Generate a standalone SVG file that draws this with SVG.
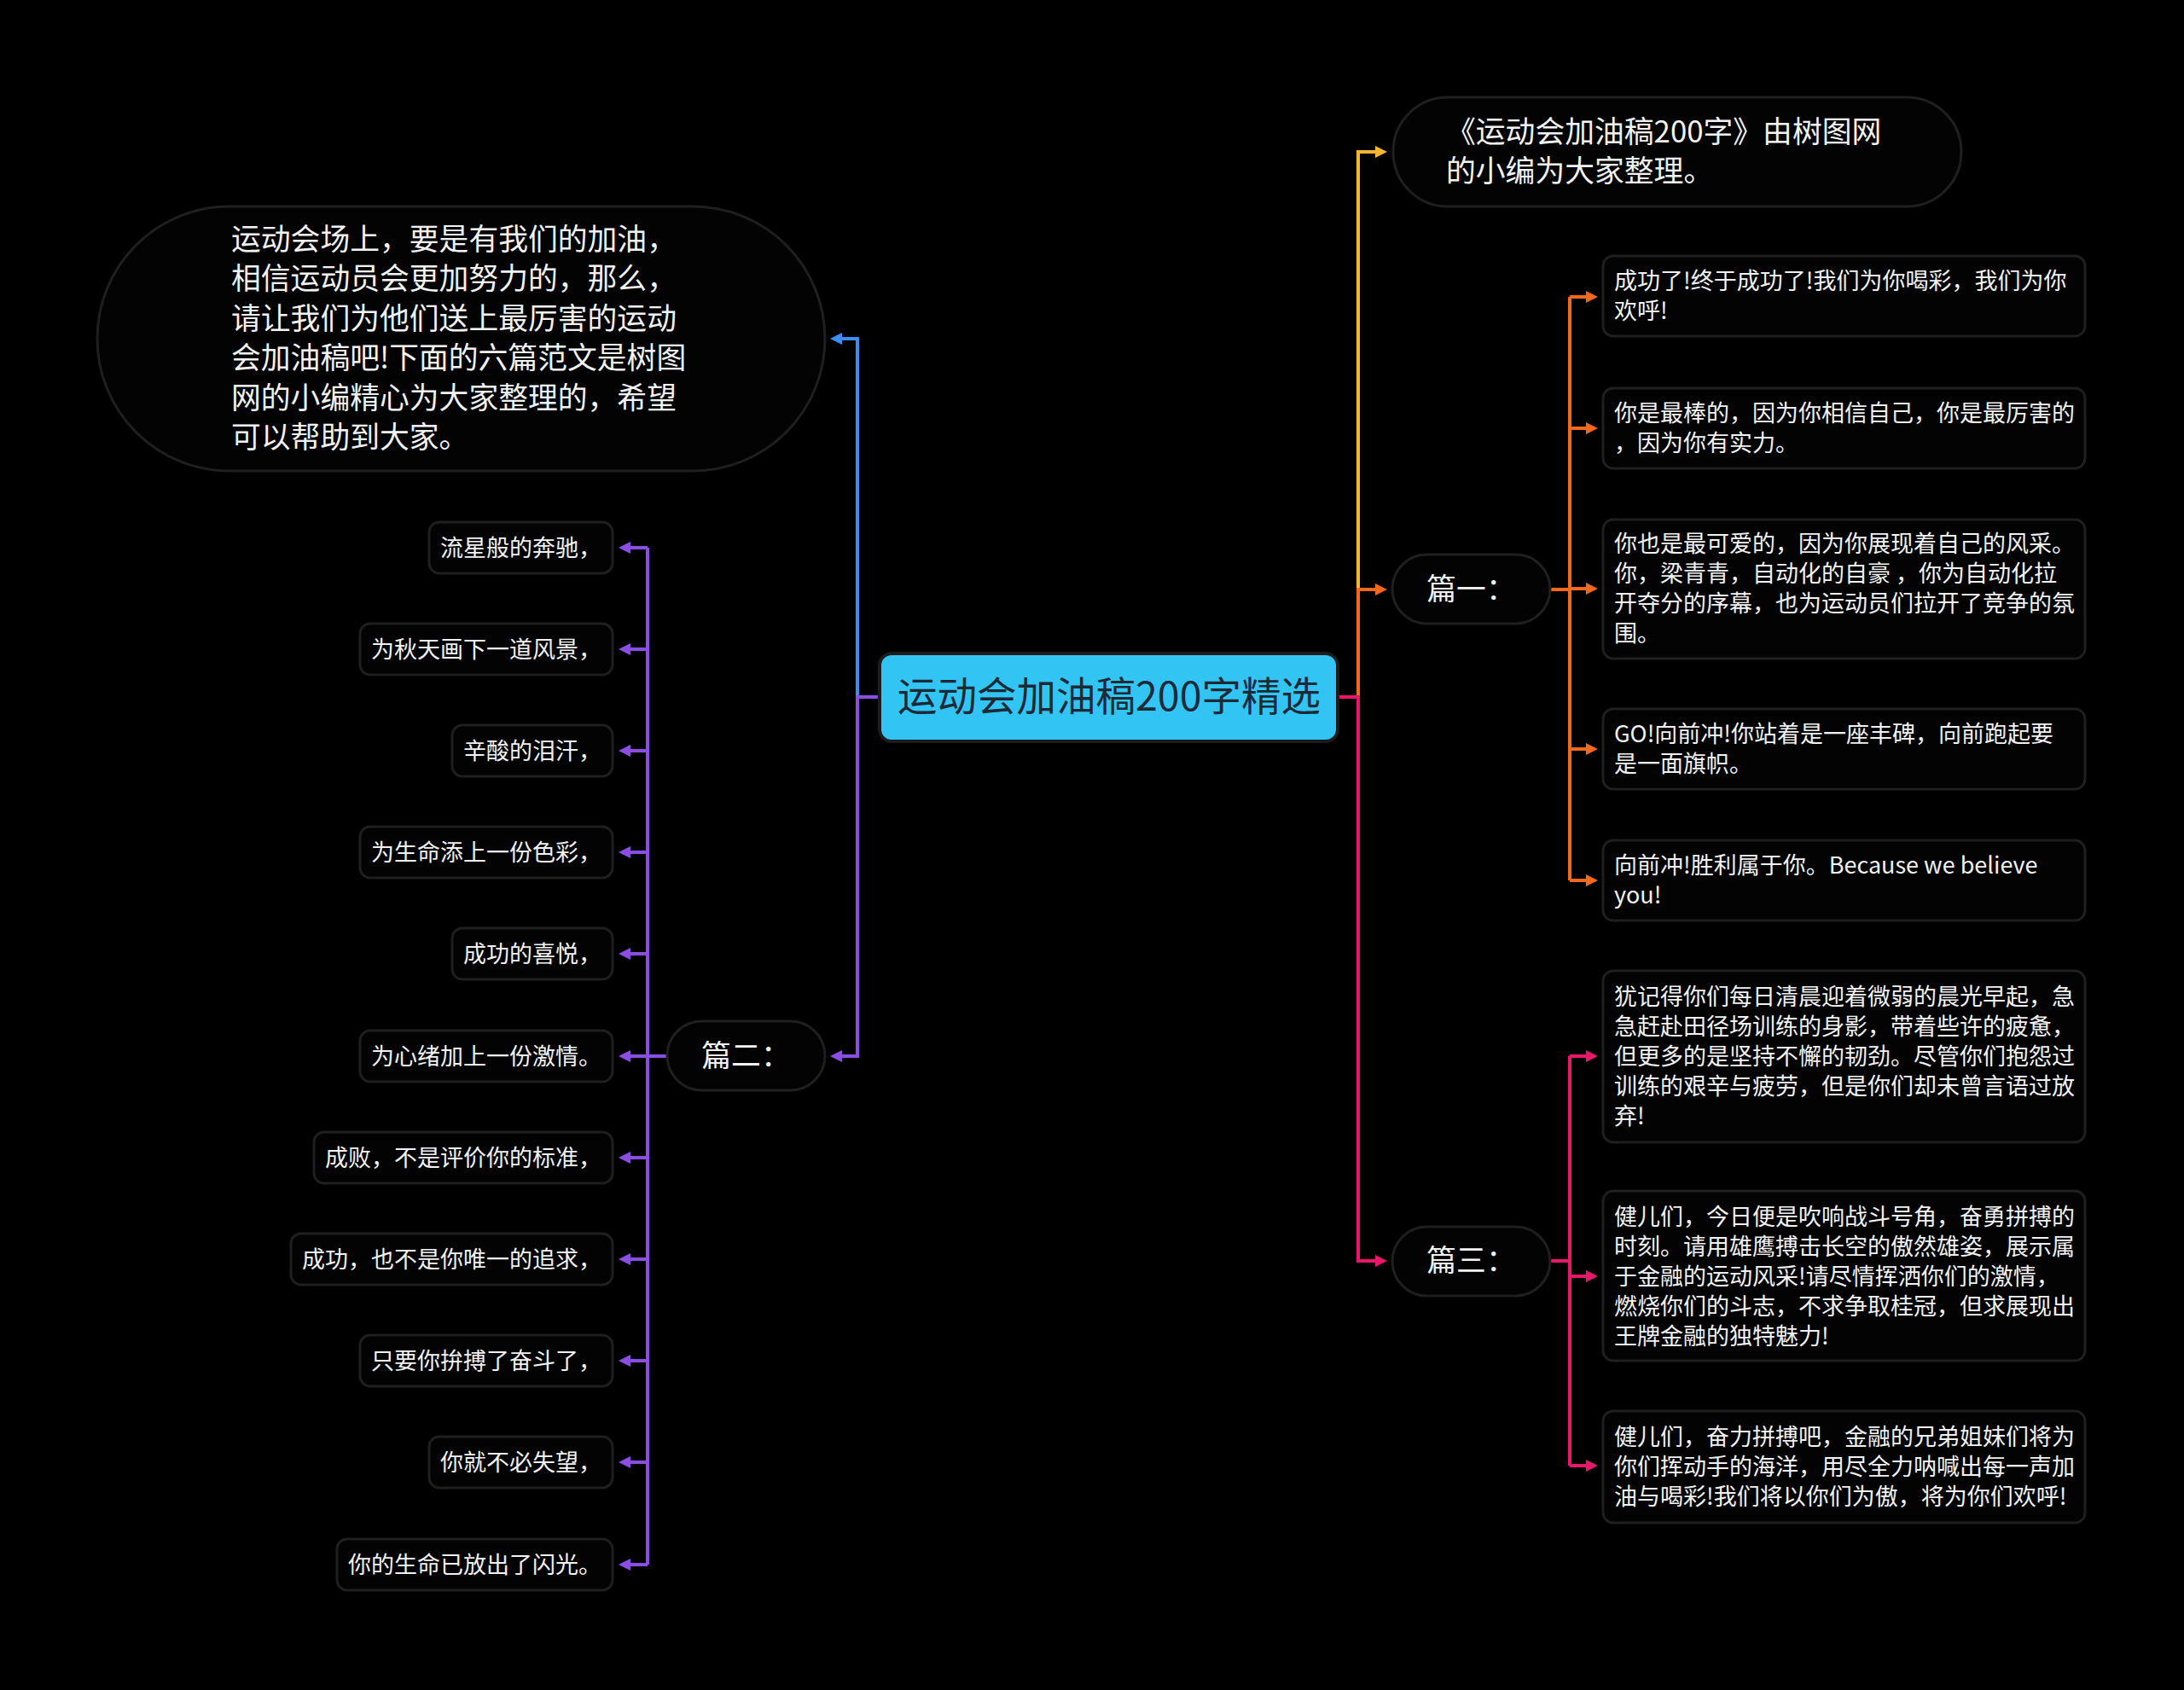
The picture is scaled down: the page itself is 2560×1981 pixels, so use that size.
<svg xmlns="http://www.w3.org/2000/svg" width="2560" height="1981" viewBox="0 0 2560 1981">
<style>
text{font-family:"Noto Sans CJK SC","Noto Sans",sans-serif;fill:#f2f2f2}
.box{fill:#030303;stroke:#1f1f1f;stroke-width:3}
.t35{font-size:34.8px}
.t27{font-size:27px}
.c{fill:none;stroke-width:4}
.mid{text-anchor:middle}
</style>
<defs>
<marker id="aB" markerUnits="userSpaceOnUse" markerWidth="14" markerHeight="14" viewBox="0 0 14 14" refX="6" refY="7" orient="auto"><path d="M0,0L14,7L0,14z" fill="#3f8cf0"/></marker>
<marker id="aP" markerUnits="userSpaceOnUse" markerWidth="14" markerHeight="14" viewBox="0 0 14 14" refX="6" refY="7" orient="auto"><path d="M0,0L14,7L0,14z" fill="#8a4ee2"/></marker>
<marker id="aY" markerUnits="userSpaceOnUse" markerWidth="14" markerHeight="14" viewBox="0 0 14 14" refX="6" refY="7" orient="auto"><path d="M0,0L14,7L0,14z" fill="#f5b531"/></marker>
<marker id="aO" markerUnits="userSpaceOnUse" markerWidth="14" markerHeight="14" viewBox="0 0 14 14" refX="6" refY="7" orient="auto"><path d="M0,0L14,7L0,14z" fill="#f2681c"/></marker>
<marker id="aR" markerUnits="userSpaceOnUse" markerWidth="14" markerHeight="14" viewBox="0 0 14 14" refX="6" refY="7" orient="auto"><path d="M0,0L14,7L0,14z" fill="#e8176a"/></marker>
</defs>
<rect width="2560" height="1981" fill="#000"/>

<g id="connectors">
<path class="c" stroke="#3f8cf0" d="M1005,817V397H981" marker-end="url(#aB)"/>
<path class="c" stroke="#8a4ee2" d="M1031,817H1005V1238H981" marker-end="url(#aP)"/>
<path class="c" stroke="#8a4ee2" d="M782,1238H759M759,642V1834"/>
<g stroke="#8a4ee2" class="c" marker-end="url(#aP)">
<path class="c" d="M759,642H733"/>
<path class="c" d="M759,761H733"/>
<path class="c" d="M759,880H733"/>
<path class="c" d="M759,999H733"/>
<path class="c" d="M759,1118H733"/>
<path class="c" d="M759,1238H733"/>
<path class="c" d="M759,1357H733"/>
<path class="c" d="M759,1476H733"/>
<path class="c" d="M759,1595H733"/>
<path class="c" d="M759,1714H733"/>
<path class="c" d="M759,1834H733"/>
</g>
<path class="c" stroke="#f5b531" d="M1592,817V178H1618" marker-end="url(#aY)"/>
<path class="c" stroke="#f2681c" d="M1592,817V691H1618" marker-end="url(#aO)"/>
<path class="c" stroke="#e8176a" d="M1568,817H1592V1478H1618" marker-end="url(#aR)"/>
<path class="c" stroke="#f2681c" d="M1817,691H1840M1840,348V1032"/>
<g stroke="#f2681c" class="c" marker-end="url(#aO)">
<path class="c" d="M1840,348H1865"/>
<path class="c" d="M1840,502H1865"/>
<path class="c" d="M1840,690H1865"/>
<path class="c" d="M1840,878H1865"/>
<path class="c" d="M1840,1032H1865"/>
</g>
<path class="c" stroke="#e8176a" d="M1817,1478H1840M1840,1238V1718"/>
<g stroke="#e8176a" class="c" marker-end="url(#aR)">
<path class="c" d="M1840,1238H1865"/>
<path class="c" d="M1840,1496H1865"/>
<path class="c" d="M1840,1718H1865"/>
</g>
</g>

<g id="root">
<rect x="1031" y="766" width="537" height="103" rx="14" fill="#32c5f4" stroke="#1c1c1c" stroke-width="4"/>
<text x="1300" y="833" class="mid" style="font-size:46.5px;fill:#1c2a36">运动会加油稿200字精选</text>
</g>

<g id="intro">
<rect class="box" x="114" y="242" width="853" height="310" rx="155"/>
<text class="t35"><tspan x="271" y="293">运动会场上，要是有我们的加油，</tspan><tspan x="271" y="339.4">相信运动员会更加努力的，那么，</tspan><tspan x="271" y="385.8">请让我们为他们送上最厉害的运动</tspan><tspan x="271" y="432.2">会加油稿吧!下面的六篇范文是树图</tspan><tspan x="271" y="478.6">网的小编精心为大家整理的，希望</tspan><tspan x="271" y="525">可以帮助到大家。</tspan></text>
</g>

<g id="pian2">
<rect class="box" x="782" y="1197" width="185" height="81" rx="40.5"/>
<text x="874.5" y="1250" class="t35 mid">篇二：</text>
</g>

<g id="l1"><rect class="box" x="503" y="612" width="215" height="60" rx="12"/><text class="t27" x="516" y="651.5">流星般的奔驰，</text></g>
<g id="l2"><rect class="box" x="422" y="731" width="296" height="60" rx="12"/><text class="t27" x="435" y="770.5">为秋天画下一道风景，</text></g>
<g id="l3"><rect class="box" x="530" y="850" width="188" height="60" rx="12"/><text class="t27" x="543" y="889.5">辛酸的泪汗，</text></g>
<g id="l4"><rect class="box" x="422" y="969" width="296" height="60" rx="12"/><text class="t27" x="435" y="1008.5">为生命添上一份色彩，</text></g>
<g id="l5"><rect class="box" x="530" y="1088" width="188" height="60" rx="12"/><text class="t27" x="543" y="1127.5">成功的喜悦，</text></g>
<g id="l6"><rect class="box" x="422" y="1208" width="296" height="60" rx="12"/><text class="t27" x="435" y="1247.5">为心绪加上一份激情。</text></g>
<g id="l7"><rect class="box" x="368" y="1327" width="350" height="60" rx="12"/><text class="t27" x="381" y="1366.5">成败，不是评价你的标准，</text></g>
<g id="l8"><rect class="box" x="341" y="1446" width="377" height="60" rx="12"/><text class="t27" x="354" y="1485.5">成功，也不是你唯一的追求，</text></g>
<g id="l9"><rect class="box" x="422" y="1565" width="296" height="60" rx="12"/><text class="t27" x="435" y="1604.5">只要你拚搏了奋斗了，</text></g>
<g id="l10"><rect class="box" x="503" y="1684" width="215" height="60" rx="12"/><text class="t27" x="516" y="1723.5">你就不必失望，</text></g>
<g id="l11"><rect class="box" x="395" y="1804" width="323" height="60" rx="12"/><text class="t27" x="408" y="1843.5">你的生命已放出了闪光。</text></g>

<g id="note">
<rect class="box" x="1633" y="114" width="666" height="128" rx="64"/>
<text class="t35"><tspan x="1695" y="167">《运动会加油稿200字》由树图网</tspan><tspan x="1695" y="213">的小编为大家整理。</tspan></text>
</g>

<g id="pian1">
<rect class="box" x="1632" y="650" width="185" height="81" rx="40.5"/>
<text x="1724.5" y="703" class="t35 mid">篇一：</text>
</g>

<g id="r1"><rect class="box" x="1879" y="300" width="565" height="94" rx="12"/><text class="t27"><tspan x="1892" y="339">成功了!终于成功了!我们为你喝彩，我们为你</tspan><tspan x="1892" y="374">欢呼!</tspan></text></g>
<g id="r2"><rect class="box" x="1879" y="455" width="565" height="94" rx="12"/><text class="t27"><tspan x="1892" y="494">你是最棒的，因为你相信自己，你是最厉害的</tspan><tspan x="1892" y="529">，因为你有实力。</tspan></text></g>
<g id="r3"><rect class="box" x="1879" y="609" width="565" height="163" rx="12"/><text class="t27"><tspan x="1892" y="647">你也是最可爱的，因为你展现着自己的风采。</tspan><tspan x="1892" y="682">你，梁青青，自动化的自豪 ，你为自动化拉</tspan><tspan x="1892" y="717">开夺分的序幕，也为运动员们拉开了竞争的氛</tspan><tspan x="1892" y="752">围。</tspan></text></g>
<g id="r4"><rect class="box" x="1879" y="831" width="565" height="94" rx="12"/><text class="t27"><tspan x="1892" y="870">GO!向前冲!你站着是一座丰碑，向前跑起要</tspan><tspan x="1892" y="905">是一面旗帜。</tspan></text></g>
<g id="r5"><rect class="box" x="1879" y="985" width="565" height="94" rx="12"/><text class="t27"><tspan x="1892" y="1024">向前冲!胜利属于你。Because we believe</tspan><tspan x="1892" y="1059">you!</tspan></text></g>

<g id="pian3">
<rect class="box" x="1632" y="1438" width="185" height="81" rx="40.5"/>
<text x="1724.5" y="1490" class="t35 mid">篇三：</text>
</g>

<g id="s1"><rect class="box" x="1879" y="1138" width="565" height="201" rx="12"/><text class="t27"><tspan x="1892" y="1178">犹记得你们每日清晨迎着微弱的晨光早起，急</tspan><tspan x="1892" y="1213">急赶赴田径场训练的身影，带着些许的疲惫，</tspan><tspan x="1892" y="1248">但更多的是坚持不懈的韧劲。尽管你们抱怨过</tspan><tspan x="1892" y="1283">训练的艰辛与疲劳，但是你们却未曾言语过放</tspan><tspan x="1892" y="1318">弃!</tspan></text></g>
<g id="s2"><rect class="box" x="1879" y="1396" width="565" height="199" rx="12"/><text class="t27"><tspan x="1892" y="1435.5">健儿们，今日便是吹响战斗号角，奋勇拼搏的</tspan><tspan x="1892" y="1470.5">时刻。请用雄鹰搏击长空的傲然雄姿，展示属</tspan><tspan x="1892" y="1505.5">于金融的运动风采!请尽情挥洒你们的激情，</tspan><tspan x="1892" y="1540.5">燃烧你们的斗志，不求争取桂冠，但求展现出</tspan><tspan x="1892" y="1575.5">王牌金融的独特魅力!</tspan></text></g>
<g id="s3"><rect class="box" x="1879" y="1654" width="565" height="131" rx="12"/><text class="t27"><tspan x="1892" y="1694">健儿们，奋力拼搏吧，金融的兄弟姐妹们将为</tspan><tspan x="1892" y="1729">你们挥动手的海洋，用尽全力呐喊出每一声加</tspan><tspan x="1892" y="1764">油与喝彩!我们将以你们为傲，将为你们欢呼!</tspan></text></g>
</svg>
